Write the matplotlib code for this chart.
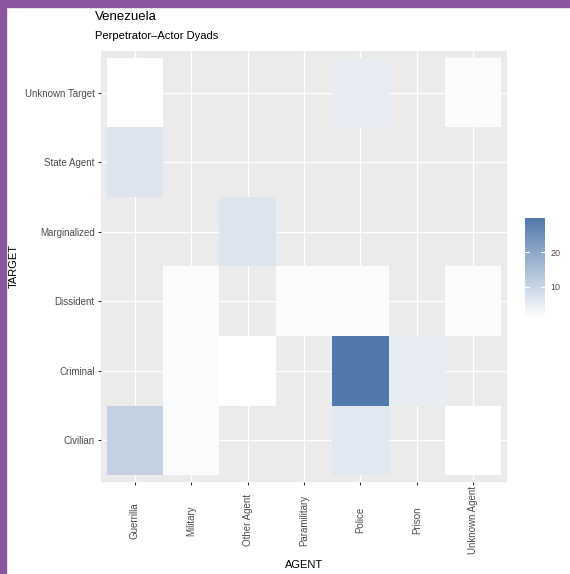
import numpy as np
import matplotlib
matplotlib.use('Agg')
import matplotlib.pyplot as plt
from matplotlib.colors import LinearSegmentedColormap
from matplotlib.patches import Rectangle

plt.rcParams['font.family'] = ['Liberation Sans', 'DejaVu Sans']

# categories
agents = ['Guerrilla', 'Military', 'Other Agent', 'Paramilitary', 'Police', 'Prison', 'Unknown Agent']
targets = ['Civilian', 'Criminal', 'Dissident', 'Marginalized', 'State Agent', 'Unknown Target']

# dyad counts (target, agent, count)
dyad_target = ['Unknown Target', 'Unknown Target', 'Unknown Target',
               'State Agent',
               'Marginalized',
               'Dissident', 'Dissident', 'Dissident', 'Dissident',
               'Criminal', 'Criminal', 'Criminal', 'Criminal',
               'Civilian', 'Civilian', 'Civilian', 'Civilian']
dyad_agent = ['Guerrilla', 'Police', 'Unknown Agent',
              'Guerrilla',
              'Other Agent',
              'Military', 'Paramilitary', 'Police', 'Unknown Agent',
              'Military', 'Other Agent', 'Police', 'Prison',
              'Guerrilla', 'Military', 'Police', 'Unknown Agent']
dyad_count = [1, 5, 2,
              7,
              7,
              2, 2, 2, 2,
              2, 1, 30, 5,
              11, 2, 6, 1]

grid = np.full((len(targets), len(agents)), np.nan)
for t, a, n in zip(dyad_target, dyad_agent, dyad_count):
    grid[targets.index(t), agents.index(a)] = n

W, H = 570, 574
fig = plt.figure(figsize=(W / 100, H / 100), dpi=100)
fig.patch.set_facecolor('white')

# purple frame strips
fig.add_artist(Rectangle((0, 0), 6 / W, 1, transform=fig.transFigure, color='#8b55a0', zorder=10))
fig.add_artist(Rectangle((0, 1 - 7 / H), 1, 7 / H, transform=fig.transFigure, color='#8b55a0', zorder=10))

ax = fig.add_axes([101 / W, 1 - 482 / H, 406 / W, 431 / H])
ax.set_facecolor('#ebebeb')
for s in ax.spines.values():
    s.set_visible(False)
ax.set_axisbelow(True)
ax.grid(color='white', lw=1.0)

cmap = LinearSegmentedColormap.from_list('wb', ['#ffffff', '#5279ab'])
cmap.set_bad((0, 0, 0, 0))
xe = np.arange(len(agents) + 1) - 0.5
ye = np.arange(len(targets) + 1) - 0.5
mesh = ax.pcolormesh(xe, ye, np.ma.masked_invalid(grid), cmap=cmap,
                     vmin=np.nanmin(grid), vmax=np.nanmax(grid))

ax.set_xlim(-0.6, len(agents) - 0.4)
ax.set_ylim(-0.6, len(targets) - 0.4)
ax.set_xticks(range(len(agents)))
ax.set_yticks(range(len(targets)))
ax.set_xticklabels(agents, rotation=90, va='center', ha='center')
ax.set_yticklabels(targets)
ax.tick_params(axis='both', colors='#333333', labelcolor='#4d4d4d', labelsize=7,
               length=2.5, width=0.8)
ax.tick_params(axis='x', pad=25)
ax.tick_params(axis='y', pad=2)

ax.set_xlabel('AGENT', fontsize=8, color='black', va='center')
ax.xaxis.set_label_coords(0.5, -(565 - 482) / 431)
ax.set_ylabel('TARGET', fontsize=8, color='black', va='center')
ax.yaxis.set_label_coords(-(101 - 14) / 406, 0.5)

fig.text(95 / W, 1 - 17 / H, 'Venezuela', fontsize=9.5, va='center', ha='left', color='black')
fig.text(95 / W, 1 - 36 / H, 'Perpetrator\u2013Actor Dyads', fontsize=8, va='center', ha='left',
         color='black')

cax = fig.add_axes([525 / W, 1 - 318 / H, 20 / W, 100 / H])
cb = fig.colorbar(mesh, cax=cax, ticks=[10, 20])
cb.outline.set_visible(False)
cax.tick_params(length=0, labelsize=6.5, labelcolor='#4d4d4d', pad=4)
for v in [10, 20]:
    cax.axhline(v, xmin=0, xmax=0.2, color='white', lw=0.8)
    cax.axhline(v, xmin=0.8, xmax=1, color='white', lw=0.8)

fig.savefig('out.png', dpi=100)
